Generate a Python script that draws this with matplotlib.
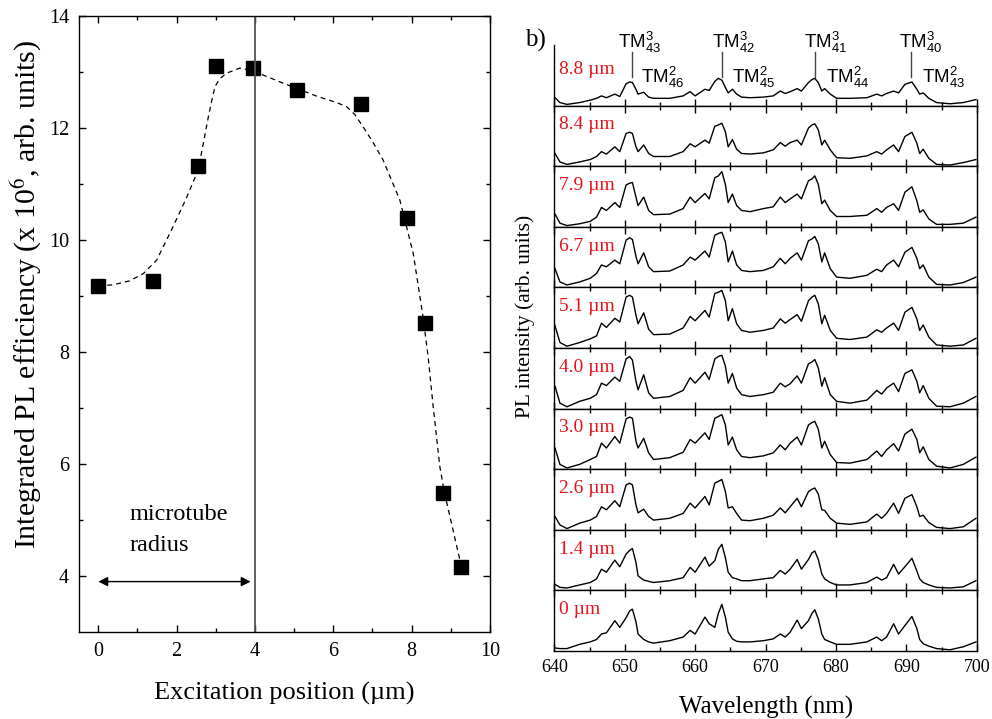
import matplotlib
matplotlib.use('Agg')
import matplotlib.pyplot as plt

plt.rcParams['font.family'] = ['Liberation Serif', 'DejaVu Serif']
plt.rcParams['mathtext.fontset'] = 'stix'
plt.rcParams['mathtext.rm'] = 'Liberation Sans'
plt.rcParams['mathtext.it'] = 'Liberation Sans:italic'
plt.rcParams['mathtext.bf'] = 'Liberation Sans:bold'

# (a) integrated PL efficiency vs excitation position
position = [0.0, 1.39, 2.55, 3.01, 3.94, 5.08, 6.71, 7.87, 8.33, 8.79, 9.25]
efficiency = [9.17, 9.26, 11.33, 13.10, 13.07, 12.67, 12.43, 10.39, 8.51, 5.49, 4.16]

# dashed guide to the eye
guide_x = [0.0, 0.38, 0.8, 1.15, 1.49, 1.91, 2.25, 2.55, 2.68, 2.81, 2.90, 2.98, 3.10,
           3.28, 3.61, 3.95, 4.72, 5.57, 6.10, 6.34, 6.55, 6.76, 7.00, 7.27, 7.70,
           8.04, 8.29, 8.42, 8.55, 8.72, 8.84, 9.23]
guide_y = [9.18, 9.20, 9.27, 9.40, 9.64, 10.24, 10.75, 11.25, 11.72, 12.20, 12.50, 12.74, 12.88,
           12.98, 13.07, 13.02, 12.80, 12.57, 12.45, 12.38, 12.24, 12.02, 11.76, 11.43, 10.71,
           9.76, 8.63, 7.92, 7.02, 5.95, 5.48, 4.29]

# (b) PL spectra, intensity in % of panel height
wavelength = [640.1, 640.8, 641.8, 643.6, 645.1, 646.0, 646.7, 647.4, 648.6, 649.3,
              650.2, 650.7, 651.1, 651.6, 651.9, 652.7, 653.4, 654.1, 656.4, 658.3,
              659.3, 660.0, 661.4, 662.0, 662.8, 663.3, 663.8, 664.3, 664.7, 665.3,
              665.9, 666.6, 667.8, 669.7, 671.1, 672.1, 672.8, 673.5, 674.5, 675.1,
              676.1, 676.6, 677.0, 677.5, 678.0, 678.4, 679.2, 680.1, 682.0, 684.4,
              685.8, 686.5, 687.2, 688.2, 688.9, 689.8, 690.8, 691.5, 691.9, 692.4,
              693.2, 694.3, 696.2, 698.1, 699.9]

spec_8_8 = [13, 5, 2, 5, 9, 12, 16, 13, 19, 15,
            36, 39, 38, 27, 19, 22, 14, 12, 12, 16,
            23, 16, 27, 25, 40, 45, 42, 30, 21, 27,
            19, 14, 13, 14, 16, 24, 20, 23, 28, 24,
            38, 43, 45, 38, 24, 28, 19, 12, 12, 13,
            19, 16, 20, 24, 21, 35, 39, 27, 19, 21,
            12, 5, 3, 5, 10]
spec_8_4 = [21, 7, 3, 7, 11, 16, 24, 20, 32, 24,
            54, 56, 54, 32, 24, 35, 21, 16, 16, 24,
            37, 32, 43, 38, 66, 68, 71, 57, 32, 44,
            28, 21, 20, 22, 27, 39, 33, 39, 43, 35,
            63, 68, 70, 60, 35, 43, 27, 14, 13, 17,
            24, 20, 27, 35, 24, 49, 56, 38, 21, 28,
            13, 3, 2, 6, 11]
spec_7_9 = [21, 6, 2, 5, 9, 16, 32, 27, 40, 32,
            69, 72, 73, 49, 35, 49, 27, 20, 21, 30,
            49, 40, 55, 46, 81, 84, 91, 70, 40, 54,
            35, 27, 25, 30, 33, 49, 40, 46, 54, 46,
            76, 79, 84, 70, 38, 44, 27, 17, 17, 19,
            30, 24, 32, 38, 27, 57, 66, 43, 24, 28,
            13, 4, 4, 6, 16]
spec_6_7 = [31, 9, 4, 9, 15, 23, 37, 34, 45, 39,
            78, 82, 79, 51, 39, 57, 34, 26, 27, 37,
            50, 45, 60, 50, 86, 89, 91, 75, 42, 60,
            37, 28, 26, 28, 34, 48, 39, 48, 57, 45,
            77, 80, 84, 72, 42, 57, 31, 17, 15, 20,
            30, 26, 37, 45, 34, 58, 66, 48, 31, 37,
            17, 5, 4, 8, 17]
spec_5_1 = [37, 9, 3, 9, 15, 20, 41, 34, 49, 43,
            84, 87, 84, 54, 40, 58, 31, 22, 23, 33,
            52, 45, 62, 51, 90, 92, 95, 78, 45, 65,
            40, 29, 26, 29, 33, 48, 41, 47, 55, 44,
            78, 84, 87, 73, 40, 54, 29, 16, 14, 18,
            30, 26, 33, 41, 29, 59, 67, 48, 29, 38,
            18, 5, 3, 5, 16]
spec_4_0 = [37, 9, 3, 12, 17, 23, 42, 38, 52, 45,
            82, 86, 80, 45, 31, 56, 26, 17, 20, 30,
            51, 42, 60, 48, 82, 86, 88, 70, 42, 58,
            34, 23, 20, 23, 27, 42, 36, 41, 54, 42,
            74, 77, 81, 67, 37, 51, 23, 12, 9, 14,
            30, 24, 34, 42, 28, 58, 64, 45, 26, 38,
            17, 4, 3, 9, 20]
spec_3_0 = [35, 8, 2, 8, 16, 21, 43, 35, 54, 43,
            83, 86, 84, 46, 35, 51, 27, 16, 19, 28,
            49, 43, 60, 49, 84, 87, 90, 73, 40, 53,
            32, 21, 19, 22, 27, 40, 32, 43, 53, 40,
            73, 77, 79, 66, 35, 46, 24, 11, 10, 16,
            30, 21, 32, 42, 30, 58, 66, 49, 27, 37,
            16, 5, 2, 8, 20]
spec_2_6 = [22, 8, 2, 11, 16, 22, 38, 33, 48, 38,
            74, 77, 74, 41, 28, 34, 22, 16, 19, 27,
            44, 36, 55, 41, 77, 80, 83, 63, 36, 38,
            27, 16, 15, 19, 24, 36, 28, 38, 52, 38,
            63, 67, 69, 59, 33, 32, 19, 11, 9, 13,
            26, 19, 27, 44, 27, 52, 58, 38, 22, 24,
            12, 4, 2, 5, 19]
spec_1_4 = [10, 5, 4, 9, 13, 19, 35, 30, 50, 39,
            60, 66, 69, 46, 24, 17, 15, 13, 16, 21,
            38, 30, 55, 40, 49, 68, 76, 54, 30, 21,
            19, 16, 16, 19, 21, 33, 27, 35, 51, 35,
            51, 62, 65, 51, 27, 19, 13, 9, 9, 13,
            22, 17, 21, 43, 27, 39, 53, 32, 19, 13,
            9, 5, 4, 6, 16]
spec_0 = [5, 4, 4, 11, 15, 19, 28, 30, 50, 39,
          55, 66, 69, 48, 28, 19, 15, 13, 17, 23,
          34, 28, 56, 45, 39, 62, 77, 56, 31, 20,
          16, 15, 15, 17, 20, 28, 23, 31, 51, 37,
          50, 62, 68, 53, 28, 19, 15, 11, 11, 15,
          23, 17, 23, 45, 28, 42, 57, 37, 19, 12,
          8, 4, 2, 7, 15]

spectra = [
    ('8.8 µm', spec_8_8), ('8.4 µm', spec_8_4), ('7.9 µm', spec_7_9),
    ('6.7 µm', spec_6_7), ('5.1 µm', spec_5_1), ('4.0 µm', spec_4_0),
    ('3.0 µm', spec_3_0), ('2.6 µm', spec_2_6), ('1.4 µm', spec_1_4),
    ('0 µm', spec_0),
]

# mode markers in the top spectrum
tm3_lines = [651.0, 663.8, 677.0, 690.6]
tm3_labels = [r'$\mathrm{TM}^{\mathrm{3}}_{\mathrm{43}}$', r'$\mathrm{TM}^{\mathrm{3}}_{\mathrm{42}}$',
              r'$\mathrm{TM}^{\mathrm{3}}_{\mathrm{41}}$', r'$\mathrm{TM}^{\mathrm{3}}_{\mathrm{40}}$']
tm2_labels = [r'$\mathrm{TM}^{\mathrm{2}}_{\mathrm{46}}$', r'$\mathrm{TM}^{\mathrm{2}}_{\mathrm{45}}$',
              r'$\mathrm{TM}^{\mathrm{2}}_{\mathrm{44}}$', r'$\mathrm{TM}^{\mathrm{2}}_{\mathrm{43}}$']
tm3_text_x = [649.1, 662.4, 675.4, 689.0]
tm2_text_x = [652.3, 665.2, 678.6, 692.2]

W, H = 992, 719
fig = plt.figure(figsize=(W / 100, H / 100), dpi=100)

# ---- panel a ----
ax = fig.add_axes([78.7 / W, 1 - 632 / H, 411.3 / W, 616 / H])
ax.plot(guide_x, guide_y, color='black', lw=0.9, ls=(0, (4, 3.2)))
ax.plot(position, efficiency, 's', color='black', ms=9.5)
ax.axvline(4, color='#555555', lw=1.3)
ax.annotate('', xy=(0, 3.9), xytext=(3.89, 3.9),
            arrowprops=dict(arrowstyle='<|-|>', color='black', lw=1.0,
                            mutation_scale=14, shrinkA=0, shrinkB=0))
ax.text(0.81, 5.0, 'microtube', fontsize=17.5, va='baseline')
ax.text(0.81, 4.45, 'radius', fontsize=17.5, va='baseline')
ax.set_xlim(-0.5, 10)
ax.set_ylim(3, 14)
ax.set_xticks(range(0, 11, 2))
ax.set_xticks(range(1, 10, 2), minor=True)
ax.set_yticks(range(4, 15, 2))
ax.set_yticks(range(5, 14, 2), minor=True)
ax.tick_params(which='both', direction='in', top=True, right=True, labelsize=14.5, pad=7)
ax.tick_params(which='major', length=5, width=1)
ax.tick_params(which='minor', length=3, width=1)
for s in ax.spines.values():
    s.set_linewidth(1.0)
fig.text(284 / W, 1 - 693 / H, 'Excitation position (µm)', fontsize=19, ha='center', va='center')
fig.text(26.5 / W, 1 - 294.5 / H, r'Integrated PL efficiency (x 10$^6$, arb. units)',
         fontsize=21.5, rotation=90, ha='center', va='center', math_fontfamily='stix')

# ---- panel b ----
top_px, panel_px = 45, 60.6
for i, (label, values) in enumerate(spectra):
    top = top_px + i * panel_px
    a = fig.add_axes([554.3 / W, 1 - (top + panel_px) / H, 422.4 / W, panel_px / H])
    a.plot(wavelength, values, color='black', lw=1.0)
    a.set_xlim(640, 700)
    a.set_ylim(0, 100)
    a.set_yticks([])
    a.set_xticks(range(640, 701, 10))
    a.set_xticks(range(645, 700, 10), minor=True)
    a.tick_params(which='both', direction='in', top=(i > 0), bottom=True,
                  labelbottom=(i == len(spectra) - 1), labelsize=13, pad=6)
    a.tick_params(which='major', length=5, width=1)
    a.tick_params(which='minor', length=3, width=1)
    for s in a.spines.values():
        s.set_linewidth(1.0)
    if i == 0:
        a.spines['top'].set_visible(False)
        a.spines['right'].set_visible(False)
        a.patch.set_visible(False)
        for x, t3, x3, t2, x2 in zip(tm3_lines, tm3_labels, tm3_text_x, tm2_labels, tm2_text_x):
            a.plot([x, x], [48, 89], color='#444444', lw=1.0, clip_on=False)
            a.text(x3, 95, t3, fontsize=13.5, va='baseline', math_fontfamily='custom')
            a.text(x2, 38, t2, fontsize=13.5, va='baseline', math_fontfamily='custom')
        ly = 0.594
    else:
        ly = 0.68
    a.text(0.01, ly, label, transform=a.transAxes, color='#e8101a', fontsize=14, va='center')

fig.text(535 / W, 1 - 40 / H, 'b)', fontsize=18, ha='center', va='center')
fig.text(766 / W, 1 - 707 / H, 'Wavelength (nm)', fontsize=18, ha='center', va='center')
fig.text(525 / W, 1 - 316 / H, 'PL intensity (arb. units)', fontsize=15.5,
         rotation=90, ha='center', va='center')

fig.savefig('out.png', dpi=100)
